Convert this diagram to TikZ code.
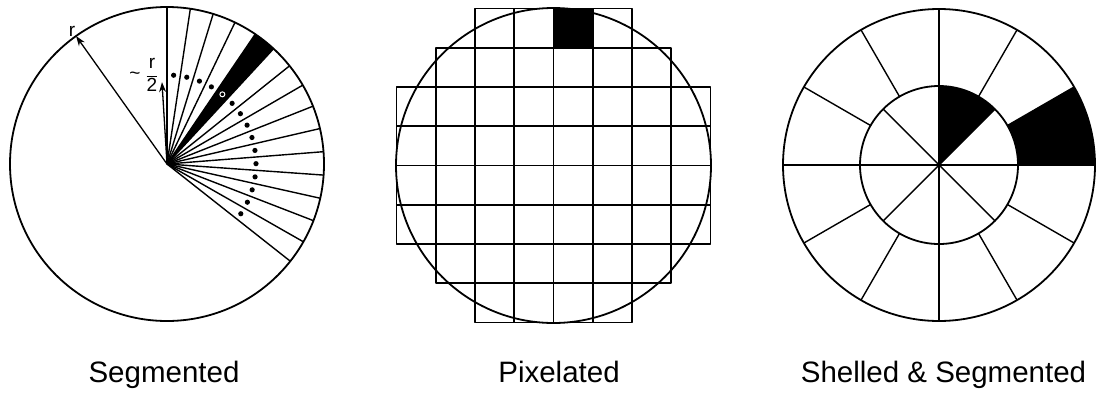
\documentclass[tikz,border=0pt]{standalone}
\usepackage{fontspec}
\setmainfont{Liberation Sans}
\usetikzlibrary{arrows.meta}
\begin{document}
\begin{tikzpicture}[x=1pt,y=-1pt,line join=round,
  outline/.style={line width=1.8pt},
  fanline/.style={line width=1.4pt},
  gridline/.style={line width=1.9pt},
  ptr/.style={line width=1.3pt,-{Stealth[length=10pt,width=7pt]}},
  small/.style={font=\fontsize{19}{21}\selectfont,inner sep=0pt},
  caption/.style={anchor=base,font=\fontsize{29.5}{34}\selectfont,inner sep=0pt}]
\useasboundingbox (0,0) rectangle (1102,394);

% ---------------- Segmented ----------------
\begin{scope}[shift={(167,164)},y=1pt]
  \coordinate (L) at (0,0);
  \fill (L) -- ({90-8.55*4}:157) arc ({90-8.55*4}:{90-8.55*5}:157) -- cycle;
  \foreach \i in {0,...,15} \draw[fanline] (L) -- ({90-8.55*\i}:157);
  \draw[outline] (L) circle (157);
  \foreach \i in {0,1,2,3,5,6,7,8,9,10,11,12,13,14}
    \fill ({90-8.55*\i-4.275}:89) circle (2.6);
  \draw[white,line width=1pt] ({90-8.55*4-4.275}:89) circle (2.5);
  \coordinate (rtip) at (125.4:157);
  \coordinate (htip) at (93.5:82);
  \draw[ptr] (L) -- (rtip);
  \draw[ptr] (L) -- (htip);
  \node[small] (rlab) at (-95,133) {r};
  \node[small] (half) at (-15,89) {$\displaystyle\frac{\mbox{r}}{\mbox{2}}$};
  \node[small] (tilde) at (-32,88) {\textasciitilde};
\end{scope}

% ---------------- Pixelated ----------------
\begin{scope}[shift={(396.5,8.5)},x=39.25pt,y=-39.25pt]
  \fill (4,0) rectangle (5,1);
  \foreach \r/\a/\b in {0/2/5,1/1/6,2/0/7,3/0/7,4/0/7,5/0/7,6/1/6,7/2/5}
    \foreach \c in {\a,...,\b}
      \draw[gridline] (\c,\r) rectangle ++(1,1);
  \coordinate (P) at (4,4);
  \draw[outline] (P) circle (157.5pt);
\end{scope}

% ---------------- Shelled & Segmented ----------------
\begin{scope}[shift={(939,165)},y=1pt]
  \coordinate (S) at (0,0);
  \fill (0:79) -- (0:156) arc (0:30:156) -- (30:79) arc (30:0:79) -- cycle;
  \fill (S) -- (45:79) arc (45:90:79) -- cycle;
  \foreach \a in {0,30,...,330} \draw[fanline] (\a:79) -- (\a:156);
  \foreach \a in {0,45,...,315} \draw[fanline] (S) -- (\a:79);
  \draw[outline] (S) circle (156);
  \draw[outline] (S) circle (79);
\end{scope}

% ---------------- captions ----------------
\node[caption] (c1) at (164,382) {Segmented};
\node[caption] (c2) at (559,382) {Pixelated};
\node[caption] (c3) at (943.5,382) {Shelled \& Segmented};
\end{tikzpicture}
\end{document}
